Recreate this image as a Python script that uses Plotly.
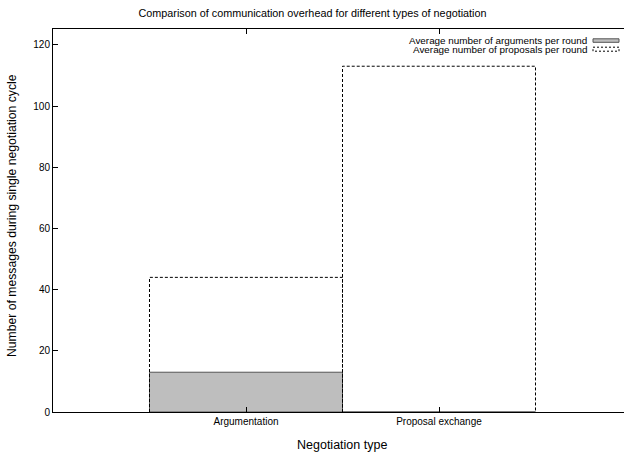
import plotly.graph_objects as go

categories = ["Argumentation", "Proposal exchange"]
arguments_per_round = [13, 0]
proposals_per_round = [44, 113]
y_ticks = [0, 20, 40, 60, 80, 100, 120]

W, H = 624, 455
L, T, B, R = 53, 29, 43, 0
pw, ph = W - L - R, H - T - B

def px(x):
    return (x - L) / pw

def py(y):
    return (H - B - y) / ph

FONT = "Liberation Sans, Arial, sans-serif"
xs = [i + 1 for i in range(len(categories))]

fig = go.Figure()

# proposals: dashed outline boxes
for x, v in zip(xs, proposals_per_round):
    fig.add_trace(go.Scatter(
        x=[x - 0.5, x - 0.5, x + 0.5, x + 0.5], y=[0, v, v, 0],
        mode="lines", line=dict(color="black", width=1, dash="3px,2px"),
        showlegend=False, hoverinfo="skip"))

# arguments: gray filled bars
fig.add_trace(go.Bar(
    x=xs, y=arguments_per_round, width=1.0,
    marker=dict(color="#bebebe", line=dict(color="#555555", width=1)),
    showlegend=False))

fig.update_layout(
    width=W, height=H,
    margin=dict(l=L, r=R, t=T, b=B, autoexpand=False),
    plot_bgcolor="white", paper_bgcolor="white",
    font=dict(family=FONT, size=10, color="black"),
    title=dict(text="Comparison of communication overhead for different types of negotiation",
               x=(139 + 486) / 2 / W, xanchor="center", y=1 - 13 / H, yanchor="middle",
               font=dict(size=10.8)),
    barmode="overlay",
    showlegend=False,
)
fig.update_xaxes(
    range=[0, pw / 193.0], tickvals=xs, ticktext=categories,
    ticks="inside", ticklen=5, tickcolor="black", tickwidth=1,
    showline=True, linecolor="black", linewidth=1, mirror="allticks",
    showgrid=False, zeroline=False, automargin=False,
)
fig.update_yaxes(
    range=[0, (H - B - T) / 3.06], tickvals=y_ticks,
    ticks="inside", ticklen=5, tickcolor="black", tickwidth=1,
    showline=True, linecolor="black", linewidth=1,
    showgrid=False, zeroline=False, automargin=False,
)

# axis titles
fig.add_annotation(text="Negotiation type", xref="paper", yref="paper",
                   x=px(342), y=py(445), xanchor="center", yanchor="middle",
                   showarrow=False, font=dict(size=12.5))
fig.add_annotation(text="Number of messages during single negotiation cycle", xref="paper", yref="paper",
                   x=px(12), y=py(216), xanchor="center", yanchor="middle", textangle=-90,
                   showarrow=False, font=dict(size=12.2))

# custom gnuplot-style legend
leg = [("Average number of arguments per round", 40.5), ("Average number of proposals per round", 49.2)]
for text, yy in leg:
    fig.add_annotation(text=text, xref="paper", yref="paper", x=px(589), y=py(yy),
                       xanchor="right", yanchor="middle", showarrow=False,
                       font=dict(size=9.9))
fig.add_shape(type="rect", xref="paper", yref="paper",
              x0=px(593), x1=px(619), y0=py(38.8), y1=py(42.3),
              fillcolor="#bebebe", line=dict(color="#555555", width=1))
fig.add_shape(type="rect", xref="paper", yref="paper",
              x0=px(593), x1=px(619), y0=py(47.2), y1=py(51.2),
              fillcolor="white", line=dict(color="black", width=1, dash="2px,2px"))

fig.write_html("out.html", config={"displayModeBar": False},
               post_script="document.body.style.margin='0';document.body.style.overflow='hidden';")
